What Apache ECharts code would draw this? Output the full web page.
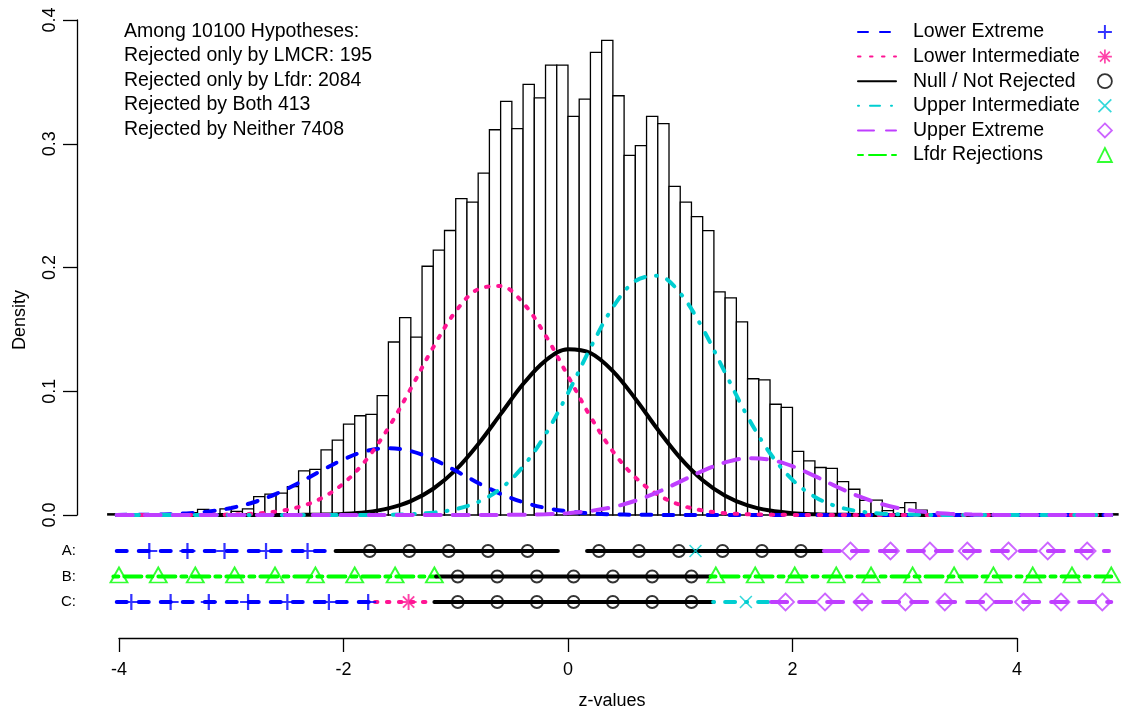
<!DOCTYPE html>
<html><head><meta charset="utf-8">
<script src="https://cdn.jsdelivr.net/npm/echarts@6/dist/echarts.min.js"></script>
<style>html,body{margin:0;padding:0;background:#fff}#c{width:1125px;height:712px}</style>
</head><body><div id="c"></div><script>
// ---------------- data ----------------
const summaryLines = ['Among 10100 Hypotheses:', 'Rejected only by LMCR: 195', 'Rejected only by Lfdr: 2084', 'Rejected by Both 413', 'Rejected by Neither 7408'];
const classNames = ['Lower Extreme', 'Lower Intermediate', 'Null / Not Rejected', 'Upper Intermediate', 'Upper Extreme', 'Lfdr Rejections'];
const markerNames = ['Lower Extreme points', 'Lower Intermediate points', 'Null points', 'Upper Intermediate points', 'Upper Extreme points', 'Lfdr points'];
const yTicks = [0, 0.1, 0.2, 0.3, 0.4];
const xTicks = [-4, -2, 0, 2, 4];
const rowLabels = ['', 'C:', 'B:', 'A:', ''];

// histogram: bin left edges (width 0.1) and densities
const binWidth = 0.1;
const binLeft = [-4.1,-4.0,-3.9,-3.8,-3.7,-3.6,-3.5,-3.4,-3.3,-3.2,-3.1,-3.0,-2.9,-2.8,-2.7,-2.6,-2.5,-2.4,-2.3,-2.2,-2.1,-2.0,-1.9,-1.8,-1.7,-1.6,-1.5,-1.4,-1.3,-1.2,-1.1,-1.0,-0.9,-0.8,-0.7,-0.6,-0.5,-0.4,-0.3,-0.2,-0.1,0.0,0.1,0.2,0.3,0.4,0.5,0.6,0.7,0.8,0.9,1.0,1.1,1.2,1.3,1.4,1.5,1.6,1.7,1.8,1.9,2.0,2.1,2.2,2.3,2.4,2.5,2.6,2.7,2.8,2.9,3.0,3.1,3.2,3.3,3.4,3.5,3.6,3.7,3.8,3.9,4.0,4.1,4.2,4.3,4.4,4.5,4.6,4.7,4.8];
const histDensity = [0.001,0,0.001,0,0.001,0.001,0.001,0.002,0.0046,0.001,0.005,0.003,0.005,0.0149,0.0168,0.0176,0.0230,0.0357,0.0368,0.0527,0.0605,0.0735,0.0802,0.0813,0.0965,0.1398,0.1595,0.1438,0.2010,0.2140,0.2299,0.2556,0.2528,0.2763,0.3113,0.3342,0.3122,0.3479,0.3371,0.3636,0.3636,0.3222,0.3360,0.3739,0.3836,0.3388,0.2906,0.2985,0.3222,0.3163,0.2655,0.2528,0.2411,0.2298,0.1803,0.1754,0.1560,0.1101,0.1092,0.0895,0.0870,0.0514,0.0438,0.0384,0.0376,0.0270,0.0208,0.0118,0.0120,0.0035,0.0060,0.0100,0.0040,0.001,0.001,0,0.001,0,0.001,0,0,0,0,0,0,0,0,0,0,0.001];

// component density curves, read at these z-values
const zGrid = [-4.02,-3.8,-3.6,-3.4,-3.2,-3.0,-2.8,-2.6,-2.4,-2.2,-2.0,-1.8,-1.6,-1.4,-1.2,-1.0,-0.8,-0.6,-0.4,-0.2,0.0,0.2,0.4,0.6,0.8,1.0,1.2,1.4,1.6,1.8,2.0,2.2,2.4,2.6,2.8,3.0,3.2,3.4,3.6,3.8,4.0,4.2,4.4,4.6,4.84];
const curveLowerExtreme = [0.0001,0.0002,0.0005,0.0013,0.0029,0.0057,0.0103,0.0171,0.0259,0.0357,0.0449,0.0516,0.0540,0.0516,0.0449,0.0357,0.0259,0.0171,0.0103,0.0057,0.0029,0.0013,0.0005,0.0002,0.0001,0,0,0,0,0,0,0,0,0,0,0,0,0,0,0,0,0,0,0,0];
const curveLowerInter = [0,0,0,0,0.0001,0.0004,0.0011,0.0028,0.0064,0.0134,0.0255,0.0443,0.0704,0.1022,0.1356,0.1646,0.1825,0.1850,0.1714,0.1451,0.1123,0.0795,0.0514,0.0304,0.0164,0.0081,0.0036,0.0015,0.0006,0.0002,0.0001,0,0,0,0,0,0,0,0,0,0,0,0,0,0];
const curveNull = [0,0,0,0,0,0,0,0,0.0001,0.0003,0.0009,0.0023,0.0054,0.0112,0.0212,0.0364,0.0572,0.0815,0.1058,0.1248,0.1340,0.1309,0.1163,0.0940,0.0691,0.0462,0.0281,0.0156,0.0078,0.0036,0.0015,0.0006,0.0002,0.0001,0,0,0,0,0,0,0,0,0,0,0];
const curveUpperInter = [0,0,0,0,0,0,0,0,0,0,0,0.0001,0.0002,0.0007,0.0019,0.0047,0.0105,0.0213,0.0392,0.0652,0.0985,0.1350,0.1678,0.1891,0.1933,0.1792,0.1507,0.1149,0.0795,0.0499,0.0284,0.0146,0.0068,0.0029,0.0011,0.0004,0.0001,0,0,0,0,0,0,0,0];
const curveUpperExtreme = [0,0,0,0,0,0,0,0,0,0,0,0,0,0,0,0,0,0.0001,0.0002,0.0006,0.0015,0.0033,0.0064,0.0115,0.0185,0.0270,0.0356,0.0425,0.0459,0.0447,0.0394,0.0314,0.0226,0.0148,0.0087,0.0046,0.0022,0.0010,0.0004,0.0001,0,0,0,0,0];

// classification rows (A: LMCR, B: Lfdr, C: combined) : [class, from z, to z]
const rowASegments = [['LE',-4.02,-2.07],['NULL',-2.07,-0.09],['NULL',0.17,2.28],['UE',2.28,4.82]];
const rowBSegments = [['LFDR',-4.05,-1.175],['NULL',-1.175,1.27],['LFDR',1.27,4.84]];
const rowCSegments = [['LE',-4.02,-1.72],['LI',-1.72,-1.19],['NULL',-1.19,1.293],['UI',1.293,1.81],['UE',1.81,4.84]];
// marker positions along each row
const rowAPlus = [-3.73,-3.39,-3.06,-2.69,-2.32];
const rowACircle = [-1.766,-1.414,-1.062,-0.712,-0.36,0.276,0.632,0.988,1.377,1.728,2.075];
const rowACross = [1.136];
const rowADiamond = [2.516,2.873,3.224,3.557,3.924,4.274,4.625];
const rowBTriangle = [-4.0,-3.65,-3.32,-2.97,-2.61,-2.25,-1.90,-1.54,-1.19,1.317,1.668,2.02,2.39,2.70,3.07,3.44,3.79,4.14,4.49,4.84];
const rowBCircle = [-0.982,-0.63,-0.277,0.05,0.40,0.75,1.10];
const rowCPlus = [-3.89,-3.54,-3.20,-2.85,-2.50,-2.13,-1.78];
const rowCStar = [-1.42];
const rowCCircle = [-0.982,-0.63,-0.277,0.05,0.40,0.75,1.10];
const rowCCross = [1.585];
const rowCDiamond = [1.938,2.29,2.62,3.006,3.357,3.724,4.058,4.392,4.76];

// ---------------- styles ----------------
const FONT = 'Liberation Sans, Arial, sans-serif';
const ROW = {A: 3, B: 2, C: 1};
const cls = {
  LE:   {name: classNames[0], color: '#0000FF', dash: [10, 12], width: 4},
  LI:   {name: classNames[1], color: '#FF1493', dash: [2.5, 9.5], width: 4},
  NULL: {name: classNames[2], color: '#000000', dash: 'solid', width: 4},
  UI:   {name: classNames[3], color: '#00CED1', dash: [1, 11, 10, 11], width: 4},
  UE:   {name: classNames[4], color: '#BF3EFF', dash: [16, 12], width: 4},
  LFDR: {name: classNames[5], color: '#00FF00', dash: [5, 6, 17, 6], width: 4}
};
const PLUS = 'path://M8.6,0H11.4V8.6H20V11.4H11.4V20H8.6V11.4H0V8.6H8.6Z';
const CROSS = 'path://M0,1.7L1.7,0L10,8.3L18.3,0L20,1.7L11.7,10L20,18.3L18.3,20L10,11.7L1.7,20L0,18.3L8.3,10Z';
const STAR = 'path://M8.8,0H11.2V8.8H20V11.2H11.2V20H8.8V11.2H0V8.8H8.8Z M2.1,3.8L3.8,2.1L10,8.3L16.2,2.1L17.9,3.8L11.7,10L17.9,16.2L16.2,17.9L10,11.7L3.8,17.9L2.1,16.2L8.3,10Z';

const series = [];
// histogram
series.push({
  type: 'custom', name: 'Histogram', xAxisIndex: 0, yAxisIndex: 0, z: 1, silent: true,
  data: binLeft.map((b, i) => [b, histDensity[i]]),
  encode: {x: 0, y: 1},
  renderItem: function (params, api) {
    const x0 = api.value(0), d = api.value(1);
    const p0 = api.coord([x0, d]);
    const p1 = api.coord([x0 + binWidth, 0]);
    return {type: 'rect', shape: {x: p0[0], y: p0[1], width: p1[0] - p0[0], height: p1[1] - p0[1]},
      style: {fill: '#ffffff', stroke: '#000000', lineWidth: 1.3}};
  }
});
// curves
const curveDefs = [['NULL', curveNull, 4], ['LE', curveLowerExtreme, 5], ['LI', curveLowerInter, 6], ['UI', curveUpperInter, 7], ['UE', curveUpperExtreme, 8]];
curveDefs.forEach(([k, vals, zz]) => {
  series.push({
    type: 'line', name: cls[k].name, xAxisIndex: 0, yAxisIndex: 0, z: zz,
    data: zGrid.map((z, i) => [z, vals[i]]), symbol: 'none', smooth: 0.35,
    lineStyle: {color: cls[k].color, width: cls[k].width, type: cls[k].dash, cap: 'round'},
    itemStyle: {color: cls[k].color}
  });
});
// row segments
[['A', rowASegments], ['B', rowBSegments], ['C', rowCSegments]].forEach(([r, segs]) => {
  segs.forEach(([k, a, b]) => {
    series.push({
      type: 'line', name: cls[k].name, xAxisIndex: 1, yAxisIndex: 1, z: 3,
      data: [[a, ROW[r]], [b, ROW[r]]], symbol: 'none', silent: true,
      lineStyle: {color: cls[k].color, width: cls[k].width, type: cls[k].dash, cap: 'round'},
      itemStyle: {color: cls[k].color}
    });
  });
});
// markers
function pts(arr, r) { return arr.map(z => [z, ROW[r]]); }
const hollow = c => ({color: 'rgba(0,0,0,0)', borderColor: c, borderWidth: 1.8});
series.push({type: 'scatter', name: markerNames[0], xAxisIndex: 1, yAxisIndex: 1, z: 10, symbol: PLUS, symbolSize: 16,
  data: pts(rowAPlus, 'A').concat(pts(rowCPlus, 'C')), itemStyle: {color: cls.LE.color, borderWidth: 0}});
series.push({type: 'scatter', name: markerNames[1], xAxisIndex: 1, yAxisIndex: 1, z: 10, symbol: STAR, symbolSize: 16,
  data: pts(rowCStar, 'C'), itemStyle: {color: cls.LI.color, borderWidth: 0}});
series.push({type: 'scatter', name: markerNames[2], xAxisIndex: 1, yAxisIndex: 1, z: 10, symbol: 'circle', symbolSize: 12,
  data: pts(rowACircle, 'A').concat(pts(rowBCircle, 'B'), pts(rowCCircle, 'C')), itemStyle: hollow('#000000')});
series.push({type: 'scatter', name: markerNames[3], xAxisIndex: 1, yAxisIndex: 1, z: 10, symbol: CROSS, symbolSize: 13,
  data: pts(rowACross, 'A').concat(pts(rowCCross, 'C')), itemStyle: {color: cls.UI.color, borderWidth: 0}});
series.push({type: 'scatter', name: markerNames[4], xAxisIndex: 1, yAxisIndex: 1, z: 10, symbol: 'diamond', symbolSize: 17,
  data: pts(rowADiamond, 'A').concat(pts(rowCDiamond, 'C')), itemStyle: hollow(cls.UE.color)});
series.push({type: 'scatter', name: markerNames[5], xAxisIndex: 1, yAxisIndex: 1, z: 10, symbol: 'triangle', symbolSize: [17, 15],
  symbolOffset: [0, -1.5],
  data: pts(rowBTriangle, 'B'), itemStyle: hollow(cls.LFDR.color)});

const axisLineStyle = {color: '#000', width: 1.3};
const option = {
  animation: false,
  backgroundColor: '#ffffff',
  textStyle: {fontFamily: FONT, color: '#000'},
  title: {text: summaryLines.join('\n'), left: 124, top: 19, padding: 0,
    textStyle: {fontFamily: FONT, fontSize: 19.5, fontWeight: 'normal', lineHeight: 24.5, color: '#000'}},
  legend: [{
    data: classNames, orient: 'vertical', left: 857, top: 22, padding: 0, selectedMode: false,
    itemWidth: 38, itemHeight: 14, itemGap: 4.6,
    itemStyle: {opacity: 0},
    textStyle: {fontFamily: FONT, fontSize: 19.5, lineHeight: 19, color: '#000', padding: [0, 0, 0, 12]}
  }, {
    data: markerNames, orient: 'vertical', left: 1097, top: 22, padding: 0, selectedMode: false,
    itemWidth: 14, itemHeight: 14, itemGap: 4.6,
    formatter: function () { return ' '; },
    itemStyle: {borderWidth: 'inherit'},
    textStyle: {fontFamily: FONT, fontSize: 19.5, lineHeight: 19}
  }],
  grid: [
    {left: 77, width: 1041, top: 20, height: 495},
    {left: 77, width: 1041, top: 525.5, height: 102},
    {left: 119, width: 898, top: 600, height: 38}
  ],
  xAxis: [
    {gridIndex: 0, type: 'value', min: -4.374, max: 4.9, show: false},
    {gridIndex: 1, type: 'value', min: -4.374, max: 4.9, show: false},
    {gridIndex: 2, type: 'value', min: xTicks[0], max: xTicks[xTicks.length - 1], interval: 2, position: 'bottom',
      axisLine: {show: true, onZero: false, lineStyle: axisLineStyle},
      axisTick: {show: true, length: 14, lineStyle: axisLineStyle},
      axisLabel: {fontFamily: FONT, fontSize: 18, color: '#000', margin: 23},
      splitLine: {show: false}}
  ],
  yAxis: [
    {gridIndex: 0, type: 'value', min: yTicks[0], max: yTicks[yTicks.length - 1], interval: 0.1,
      axisLine: {show: true, onZero: false, lineStyle: axisLineStyle},
      axisTick: {show: true, length: 14, lineStyle: axisLineStyle},
      axisLabel: {fontFamily: FONT, fontSize: 18, color: '#000', rotate: 90, margin: 18,
        formatter: v => v.toFixed(1)},
      splitLine: {show: false}},
    {gridIndex: 1, type: 'value', min: 0, max: 4, interval: 1,
      axisLine: {show: false, onZero: false}, axisTick: {show: false}, splitLine: {show: false},
      axisLabel: {fontFamily: FONT, fontSize: 15, color: '#000', margin: 1,
        formatter: v => rowLabels[Math.round(v)] || ''}},
    {gridIndex: 2, type: 'value', show: false}
  ],
  graphic: [
    {type: 'text', x: 20, y: 320, rotation: Math.PI / 2,
      style: {text: 'Density', fontFamily: FONT, fontSize: 18, fill: '#000', textAlign: 'center', textVerticalAlign: 'middle'}},
    {type: 'text', x: 612, y: 701,
      style: {text: 'z-values', fontFamily: FONT, fontSize: 18, fill: '#000', textAlign: 'center', textVerticalAlign: 'middle'}}
  ],
  series: series
};
const chart = echarts.init(document.getElementById('c'), null, {renderer: 'canvas'});
chart.setOption(option);
</script></body></html>
